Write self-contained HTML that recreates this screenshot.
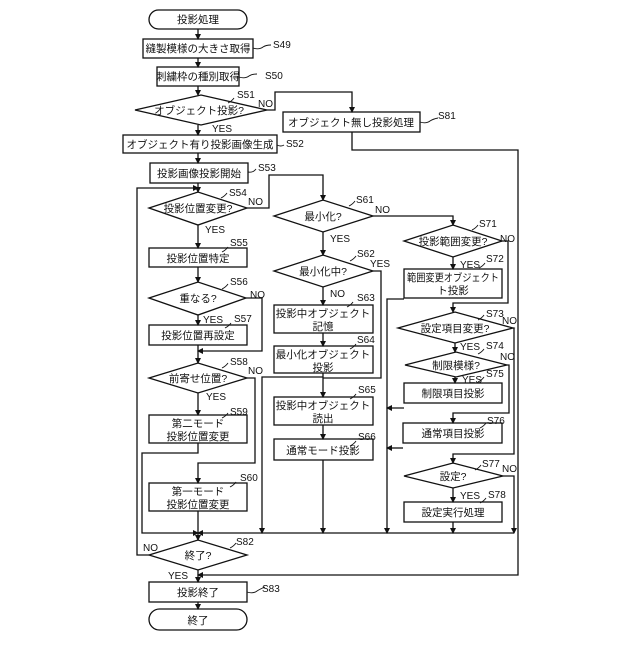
<!DOCTYPE html>
<html><head><meta charset="utf-8"><style>
html,body{margin:0;padding:0;background:#fff;}
svg text{font-family:"Liberation Sans","Noto Sans CJK JP",sans-serif;fill:#111;}
.b{font-size:10.5px;text-anchor:middle;}
.l{font-size:10px;}
</style></head><body>
<svg width="640" height="640" viewBox="0 0 640 640" xmlns="http://www.w3.org/2000/svg">
<defs><marker id="a" markerWidth="6" markerHeight="6" refX="5" refY="3" orient="auto" markerUnits="userSpaceOnUse"><path d="M0,0 L6,3 L0,6 z" fill="#111"/></marker></defs>
<g fill="none" stroke="#111" stroke-width="1.3">
<rect x="149" y="10" width="98" height="19" rx="9.5"/>
<rect x="143" y="39" width="110" height="19"/>
<rect x="157" y="67" width="82" height="19"/>
<polygon points="135,110 201,95 267,110 201,125"/>
<rect x="283" y="112" width="137" height="20"/>
<rect x="123" y="135" width="154" height="18"/>
<rect x="150" y="163" width="98" height="20"/>
<polygon points="149,208 198,192 247,208 198,225"/>
<rect x="149" y="248" width="98" height="19"/>
<polygon points="149,298 198,282 246,298 198,315"/>
<rect x="149" y="325" width="98" height="20"/>
<polygon points="149,378 198,363 247,378 198,393"/>
<rect x="149" y="415" width="98" height="28"/>
<rect x="149" y="483" width="98" height="28"/>
<polygon points="149,555 198,540 247,555 198,570"/>
<rect x="149" y="582" width="98" height="20"/>
<rect x="149" y="609" width="98" height="21" rx="10.5"/>
<polygon points="274,216 323,200 373,216 323,232"/>
<polygon points="274,271 323,255 373,271 323,287"/>
<rect x="274" y="305" width="99" height="28"/>
<rect x="274" y="346" width="99" height="27"/>
<rect x="274" y="397" width="99" height="28"/>
<rect x="274" y="439" width="99" height="21"/>
<polygon points="404,241 453,225 502,241 453,257"/>
<rect x="404" y="269" width="98" height="29"/>
<polygon points="398,328 455,312 513,328 455,343"/>
<polygon points="405,365 456,352 507,365 456,377"/>
<rect x="404" y="383" width="98" height="20"/>
<rect x="403" y="423" width="99" height="20"/>
<polygon points="404,476 453,463 503,476 453,488"/>
<rect x="404" y="502" width="98" height="20"/>
<g marker-end="url(#a)">
<line x1="198" y1="29" x2="198" y2="39"/>
<line x1="198" y1="58" x2="198" y2="67"/>
<line x1="198" y1="86" x2="198" y2="95"/>
<line x1="198" y1="125" x2="198" y2="135"/>
<line x1="198" y1="153" x2="198" y2="163"/>
<line x1="198" y1="183" x2="198" y2="192"/>
<polyline points="267,110 275,110 275,92 352,92 352,112"/>
<polyline points="352,132 352,150 518,150 518,575 198,575"/>
<polyline points="149,555 137,555 137,188 198,188"/>
<line x1="198" y1="225" x2="198" y2="248"/>
<line x1="198" y1="267" x2="198" y2="282"/>
<line x1="198" y1="315" x2="198" y2="325"/>
<polyline points="246,298 262,298 262,351 198,351"/>
<line x1="198" y1="345" x2="198" y2="363"/>
<line x1="198" y1="393" x2="198" y2="415"/>
<polyline points="247,378 255,378 255,463 198,463 198,483"/>
<polyline points="198,443 198,453 142,453 142,533 198,533"/>
<polyline points="514,533 198,533"/>
<line x1="198" y1="511" x2="198" y2="540"/>
<line x1="198" y1="570" x2="198" y2="582"/>
<line x1="198" y1="602" x2="198" y2="609"/>
<polyline points="247,208 269,208 269,175 323,175 323,200"/>
<line x1="323" y1="232" x2="323" y2="255"/>
<line x1="323" y1="287" x2="323" y2="305"/>
<line x1="323" y1="333" x2="323" y2="346"/>
<polyline points="373,271 381,271 381,378 323,378 323,397"/>
<polyline points="323,373 323,377 262,377 262,533"/>
<line x1="323" y1="425" x2="323" y2="439"/>
<line x1="323" y1="460" x2="323" y2="533"/>
<polyline points="373,216 453,216 453,225"/>
<line x1="453" y1="257" x2="453" y2="269"/>
<polyline points="502,241 508,241 508,303 453,303 453,312"/>
<polyline points="404,299 387,299 387,533"/>
<line x1="455" y1="343" x2="455" y2="352"/>
<line x1="455" y1="377" x2="455" y2="383"/>
<polyline points="513,328 514,328 514,454 453,454 453,463"/>
<polyline points="507,365 509,365 509,413 453,413 453,423"/>
<polyline points="404,408 387,408"/>
<polyline points="403,448 387,448"/>
<line x1="453" y1="488" x2="453" y2="502"/>
<polyline points="503,476 514,476 514,533"/>
<line x1="453" y1="522" x2="453" y2="533"/>
</g>
<g stroke-width="0.9">
<path d="M253,48 q6,2 10,-1 q3,-2 8,-2"/><path d="M239,77 q6,2 10,-1 q3,-2 8,-2"/>
<path d="M228,103 q4,-2 6,-5"/><path d="M420,122 q6,2 10,-1 q3,-2 8,-3"/>
<path d="M277,145 q4,2 7,0"/><path d="M248,172 q5,1 8,-3"/>
<path d="M221,198 q4,-2 6,-5"/><path d="M222,252 q4,-2 6,-5"/><path d="M222,289 q4,-2 6,-5"/>
<path d="M225,328 q4,-2 6,-5"/><path d="M222,368 q4,-2 6,-5"/><path d="M222,418 q4,-2 6,-5"/><path d="M230,487 q4,-2 6,-5"/>
<path d="M230,548 q4,-2 6,-5"/><path d="M247,592 q6,2 10,-1 q3,-2 8,-4"/>
<path d="M349,206 q4,-2 6,-5"/><path d="M350,261 q4,-2 6,-5"/><path d="M347,307 q4,-2 6,-5"/><path d="M350,349 q4,-2 6,-5"/><path d="M350,399 q4,-2 6,-5"/><path d="M350,446 q4,-2 6,-5"/>
<path d="M472,230 q4,-2 6,-5"/><path d="M479,268 q4,-2 6,-5"/><path d="M478,320 q4,-2 6,-5"/><path d="M478,354 q4,-2 6,-5"/><path d="M478,382 q4,-2 6,-5"/><path d="M480,428 q4,-2 6,-5"/><path d="M475,470 q4,-2 6,-5"/><path d="M480,503 q4,-2 6,-5"/>
</g>
</g>
<g class="b">
<text x="198" y="23">投影処理</text>
<text x="198" y="52">縫製模様の大きさ取得</text>
<text x="198" y="80">刺繍枠の種別取得</text>
<text x="199" y="114">オブジェクト投影?</text>
<text x="351" y="126">オブジェクト無し投影処理</text>
<text x="200" y="148">オブジェクト有り投影画像生成</text>
<text x="199" y="177">投影画像投影開始</text>
<text x="198" y="212">投影位置変更?</text>
<text x="198" y="262">投影位置特定</text>
<text x="198" y="302">重なる?</text>
<text x="198" y="339">投影位置再設定</text>
<text x="198" y="382">前寄せ位置?</text>
<text x="198" y="427">第二モード</text><text x="198" y="440">投影位置変更</text>
<text x="198" y="495">第一モード</text><text x="198" y="508">投影位置変更</text>
<text x="198" y="559">終了?</text>
<text x="198" y="596">投影終了</text>
<text x="198" y="624">終了</text>
<text x="323" y="220">最小化?</text>
<text x="323" y="275">最小化中?</text>
<text x="323" y="317">投影中オブジェクト</text><text x="323" y="330">記憶</text>
<text x="323" y="358">最小化オブジェクト</text><text x="323" y="371">投影</text>
<text x="323" y="409">投影中オブジェクト</text><text x="323" y="422">読出</text>
<text x="323" y="454">通常モード投影</text>
<text x="453" y="245">投影範囲変更?</text>
<text x="453" y="281" textLength="92" lengthAdjust="spacingAndGlyphs">範囲変更オブジェクト</text><text x="453" y="294">ト投影</text>
<text x="455" y="332">設定項目変更?</text>
<text x="456" y="369">制限模様?</text>
<text x="453" y="397">制限項目投影</text>
<text x="453" y="437">通常項目投影</text>
<text x="453" y="480">設定?</text>
<text x="453" y="516">設定実行処理</text>
</g>
<g class="l">
<text x="273" y="48">S49</text><text x="265" y="79">S50</text>
<text x="237" y="98">S51</text><text x="258" y="107">NO</text><text x="212" y="132">YES</text>
<text x="438" y="119">S81</text><text x="286" y="147">S52</text><text x="258" y="171">S53</text>
<text x="229" y="196">S54</text><text x="248" y="205">NO</text><text x="205" y="233">YES</text>
<text x="230" y="246">S55</text><text x="230" y="285">S56</text><text x="250" y="298">NO</text>
<text x="203" y="323">YES</text><text x="234" y="322">S57</text>
<text x="230" y="365">S58</text><text x="248" y="374">NO</text><text x="206" y="400">YES</text>
<text x="230" y="415">S59</text><text x="240" y="481">S60</text>
<text x="236" y="545">S82</text><text x="143" y="551">NO</text><text x="168" y="579">YES</text>
<text x="262" y="592">S83</text>
<text x="356" y="203">S61</text><text x="375" y="213">NO</text><text x="330" y="242">YES</text>
<text x="357" y="257">S62</text><text x="370" y="267">YES</text><text x="330" y="297">NO</text>
<text x="357" y="301">S63</text><text x="357" y="343">S64</text><text x="358" y="393">S65</text><text x="358" y="440">S66</text>
<text x="479" y="227">S71</text><text x="500" y="242">NO</text><text x="460" y="268">YES</text><text x="486" y="262">S72</text>
<text x="486" y="317">S73</text><text x="502" y="324">NO</text><text x="460" y="350">YES</text><text x="486" y="349">S74</text><text x="500" y="360">NO</text>
<text x="462" y="383">YES</text><text x="486" y="377">S75</text><text x="487" y="424">S76</text>
<text x="482" y="467">S77</text><text x="502" y="472">NO</text><text x="460" y="499">YES</text><text x="488" y="498">S78</text>
</g>
</svg>
</body></html>
